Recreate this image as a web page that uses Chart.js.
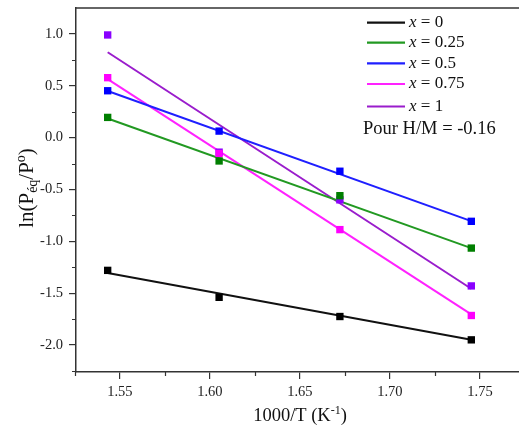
<!DOCTYPE html>
<html>
<head>
<meta charset="utf-8">
<script src="https://cdn.jsdelivr.net/npm/chart.js@4/dist/chart.umd.min.js"></script>
<style>
  html, body { margin: 0; padding: 0; background: #fff; }
  #wrap { width: 519px; height: 429px; }
</style>
</head>
<body>
<div id="wrap"><canvas id="vantHoff" width="519" height="429"></canvas></div>
<script>
// 1000/T for 648, 623, 598, 573 K
const invT = [1.5432, 1.6051, 1.6722, 1.7452];

// ln(Peq/P°) measured at H/M = -0.16
const lnP_x0 = [-1.28, -1.54, -1.725, -1.95];
const lnP_x025 = [0.195, -0.225, -0.56, -1.065];
const lnP_x05 = [0.452, 0.063, -0.324, -0.807];
const lnP_x075 = [0.578, -0.153, -0.887, -1.715];
const lnP_x1 = [0.99, -0.14, -0.60, -1.43];

// fitted lines, values at first and last temperature
const fitX = [invT[0], invT[3]];
const fit_x0 = [-1.306, -1.95];
const fit_x025 = [0.185, -1.065];
const fit_x05 = [0.45, -0.805];
const fit_x075 = [0.565, -1.705];
const fit_x1 = [0.823, -1.457];

const labels = ['0', '0.25', '0.5', '0.75', '1'];
const lineColors = ['#111111', '#229922', '#1f1fff', '#ff22ff', '#9a1ccc'];
const pointColors = ['#000000', '#007f00', '#0000ff', '#ff00ff', '#8a00ff'];

const xTicks = [1.55, 1.60, 1.65, 1.70, 1.75];
const yTicks = [-2.0, -1.5, -1.0, -0.5, 0.0, 0.5, 1.0];

const serif = '"Liberation Serif", "Times New Roman", serif';

const pointSets = [lnP_x0, lnP_x025, lnP_x05, lnP_x075, lnP_x1];
const fitSets = [fit_x0, fit_x025, fit_x05, fit_x075, fit_x1];

const datasets = [];
pointSets.forEach((vals, i) => {
    datasets.push({
        label: 'x = ' + labels[i],
        data: invT.map((x, k) => ({ x: x, y: vals[k] })),
        showLine: false,
        pointStyle: 'rect',
        pointRadius: 5.2,
        pointBackgroundColor: pointColors[i],
        pointBorderColor: pointColors[i],
        pointBorderWidth: 0,
        order: 0
    });
});
fitSets.forEach((vals, i) => {
    datasets.push({
        label: 'fit ' + labels[i],
        data: fitX.map((x, k) => ({ x: x, y: vals[k] })),
        showLine: true,
        borderColor: lineColors[i],
        borderWidth: 2,
        pointRadius: 0,
        order: 1
    });
});

// no extra room for edge tick labels, keep the plot box fixed
function noPadding(scale) {
    scale.paddingTop = 0;
    scale.paddingBottom = 0;
    scale.paddingLeft = 0;
    scale.paddingRight = 0;
}

// minor ticks, top frame line, legend and axis titles
const decorPlugin = {
    id: 'decor',
    afterDraw(chart) {
        const ctx = chart.ctx;
        const a = chart.chartArea;
        const xs = chart.scales.x;
        const ys = chart.scales.y;
        ctx.save();
        ctx.strokeStyle = '#333';
        ctx.lineWidth = 1.2;

        // minor ticks
        ctx.beginPath();
        for (let v = 1.525; v < 1.775; v += 0.05) {
            const px = Math.round(xs.getPixelForValue(v)) + 0.5;
            if (px > a.right) continue;
            ctx.moveTo(px, a.bottom);
            ctx.lineTo(px, a.bottom + 4);
        }
        for (let v = -2.25; v < 1.25; v += 0.5) {
            const py = Math.round(ys.getPixelForValue(v)) + 0.5;
            if (py < a.top || py > a.bottom) continue;
            ctx.moveTo(a.left, py);
            ctx.lineTo(a.left - 4, py);
        }
        ctx.stroke();

        // top frame
        ctx.lineWidth = 1.5;
        ctx.beginPath();
        ctx.moveTo(a.left, a.top);
        ctx.lineTo(chart.width, a.top);
        ctx.stroke();

        // legend
        ctx.textBaseline = 'middle';
        const rows = [22.7, 42.7, 63.3, 84, 106.5];
        labels.forEach((lab, i) => {
            ctx.strokeStyle = lineColors[i];
            ctx.lineWidth = 2.2;
            ctx.beginPath();
            ctx.moveTo(367, rows[i]);
            ctx.lineTo(405, rows[i]);
            ctx.stroke();
            ctx.fillStyle = '#111';
            ctx.font = 'italic 17px ' + serif;
            ctx.fillText('x', 409, rows[i]);
            const w = ctx.measureText('x').width;
            ctx.font = '17px ' + serif;
            ctx.fillText(' = ' + lab, 409 + w, rows[i]);
        });
        ctx.font = '18.5px ' + serif;
        ctx.fillText('Pour H/M = -0.16', 363, 129);

        // x axis title
        ctx.fillStyle = '#111';
        ctx.textBaseline = 'alphabetic';
        const cx = 300;
        const base = 421;
        ctx.font = '18.5px ' + serif;
        const t1 = '1000/T (K';
        const t2 = '-1';
        const t3 = ')';
        const w1 = ctx.measureText(t1).width;
        const w3 = ctx.measureText(t3).width;
        ctx.font = '12px ' + serif;
        const w2 = ctx.measureText(t2).width;
        let xpos = cx - (w1 + w2 + w3) / 2;
        ctx.font = '18.5px ' + serif;
        ctx.fillText(t1, xpos, base);
        xpos += w1;
        ctx.font = '12px ' + serif;
        ctx.fillText(t2, xpos, base - 7);
        xpos += w2;
        ctx.font = '18.5px ' + serif;
        ctx.fillText(t3, xpos, base);

        // y axis title, rotated
        ctx.save();
        ctx.translate(33, 188);
        ctx.rotate(-Math.PI / 2);
        const parts = [
            { t: 'ln(P', size: 21, dy: 0 },
            { t: 'éq', size: 14, dy: 4 },
            { t: '/P', size: 21, dy: 0 },
            { t: 'o', size: 14, dy: -8 },
            { t: ')', size: 21, dy: 0 }
        ];
        let total = 0;
        parts.forEach(p => {
            ctx.font = p.size + 'px ' + serif;
            p.w = ctx.measureText(p.t).width;
            total += p.w;
        });
        let px = -total / 2;
        parts.forEach(p => {
            ctx.font = p.size + 'px ' + serif;
            ctx.fillText(p.t, px, p.dy);
            px += p.w;
        });
        ctx.restore();

        ctx.restore();
    }
};

const ctx = document.getElementById('vantHoff').getContext('2d');
const vantHoffChart = new Chart(ctx, {
    type: 'scatter',
    data: { datasets: datasets },
    options: {
        responsive: false,
        animation: false,
        layout: {
            autoPadding: false,
            padding: { top: 8, right: 0, left: 0, bottom: 0 }
        },
        plugins: {
            legend: { display: false },
            tooltip: { enabled: false }
        },
        scales: {
            x: {
                type: 'linear',
                min: 1.5256,
                max: 1.7717,
                afterFit: function (scale) {
                    scale.height = 57;
                    noPadding(scale);
                },
                afterBuildTicks: function (scale) {
                    scale.ticks = xTicks.map(v => ({ value: v }));
                },
                border: { display: true, color: '#333', width: 1.5 },
                grid: {
                    drawOnChartArea: false,
                    drawTicks: true,
                    tickLength: 7,
                    tickColor: '#333',
                    lineWidth: 1.2
                },
                ticks: {
                    padding: 4,
                    color: '#222',
                    font: { family: serif, size: 14.5 },
                    maxRotation: 0,
                    callback: v => v.toFixed(2)
                }
            },
            y: {
                type: 'linear',
                min: -2.26,
                max: 1.25,
                afterFit: function (scale) {
                    scale.width = 76;
                    noPadding(scale);
                },
                afterBuildTicks: function (scale) {
                    scale.ticks = yTicks.map(v => ({ value: v }));
                },
                border: { display: true, color: '#333', width: 1.5 },
                grid: {
                    drawOnChartArea: false,
                    drawTicks: true,
                    tickLength: 7,
                    tickColor: '#333',
                    lineWidth: 1.2
                },
                ticks: {
                    padding: 6,
                    color: '#222',
                    font: { family: serif, size: 14.5 },
                    callback: v => v.toFixed(1)
                }
            }
        }
    },
    plugins: [decorPlugin]
});
</script>
</body>
</html>
